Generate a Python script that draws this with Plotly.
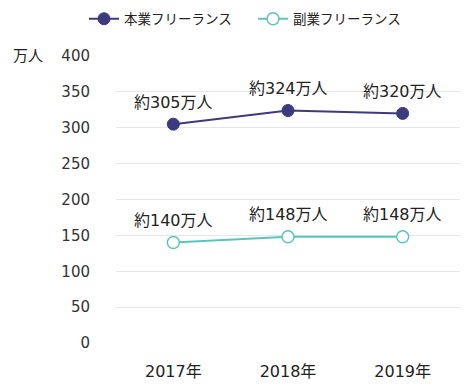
import plotly.graph_objects as go

years = ["2017年", "2018年", "2019年"]
main_name = "本業フリーランス"
side_name = "副業フリーランス"
main_values = [305, 324, 320]
side_values = [140, 148, 148]
main_labels = ["約305万人", "約324万人", "約320万人"]
side_labels = ["約140万人", "約148万人", "約148万人"]
y_ticks = [0, 50, 100, 150, 200, 250, 300, 350, 400]

FONT = "DejaVu Sans, Noto Sans CJK JP, sans-serif"
C_MAIN = "#3e3a7e"
C_SIDE = "#5bc5bd"

fig = go.Figure()
fig.add_trace(go.Scatter(
    x=years, y=main_values, name=main_name, mode="lines+markers",
    line=dict(color=C_MAIN, width=2),
    marker=dict(size=12, color=C_MAIN, line=dict(color=C_MAIN, width=1)),
))
fig.add_trace(go.Scatter(
    x=years, y=side_values, name=side_name, mode="lines+markers",
    line=dict(color=C_SIDE, width=2),
    marker=dict(size=12, color="white", line=dict(color=C_SIDE, width=1.5)),
))

for xs, ys, labels in [(years, main_values, main_labels), (years, side_values, side_labels)]:
    for x, y, t in zip(xs, ys, labels):
        fig.add_annotation(x=x, y=y, text=t, showarrow=False, yshift=22,
                           font=dict(family=FONT, size=16, color="#222222"))

fig.add_annotation(xref="paper", yref="paper", x=-0.256, y=1.0, text="万人",
                   showarrow=False, xanchor="center", yanchor="middle",
                   font=dict(family=FONT, size=15, color="#222222"))

fig.update_layout(
    width=475, height=391,
    margin=dict(l=116, r=15, t=56, b=48, autoexpand=False),
    paper_bgcolor="white", plot_bgcolor="white",
    font=dict(family=FONT, size=15, color="#333333"),
    showlegend=True,
    legend=dict(orientation="h", x=-0.093, xanchor="left", y=1.129, yanchor="middle",
                font=dict(family=FONT, size=13.5, color="#222222"),
                entrywidth=124, entrywidthmode="pixels",
                itemwidth=30, tracegroupgap=0),
    xaxis=dict(range=[-0.5, 2.5], showgrid=False, showline=False, zeroline=False,
               automargin=False,
               tickfont=dict(family=FONT, size=16, color="#222222"),
               ticks="outside", ticklen=14, tickcolor="rgba(0,0,0,0)"),
    yaxis=dict(range=[0, 400], tickvals=y_ticks, showgrid=True, automargin=False,
               gridcolor="#e6e6e6", gridwidth=1, zeroline=False, showline=False,
               tickfont=dict(family=FONT, size=15, color="#333333"),
               ticks="outside", ticklen=22, tickcolor="rgba(0,0,0,0)"),
)

fig.write_html("out.html", config={"displayModeBar": False},
               post_script="document.body.style.margin='0';")
